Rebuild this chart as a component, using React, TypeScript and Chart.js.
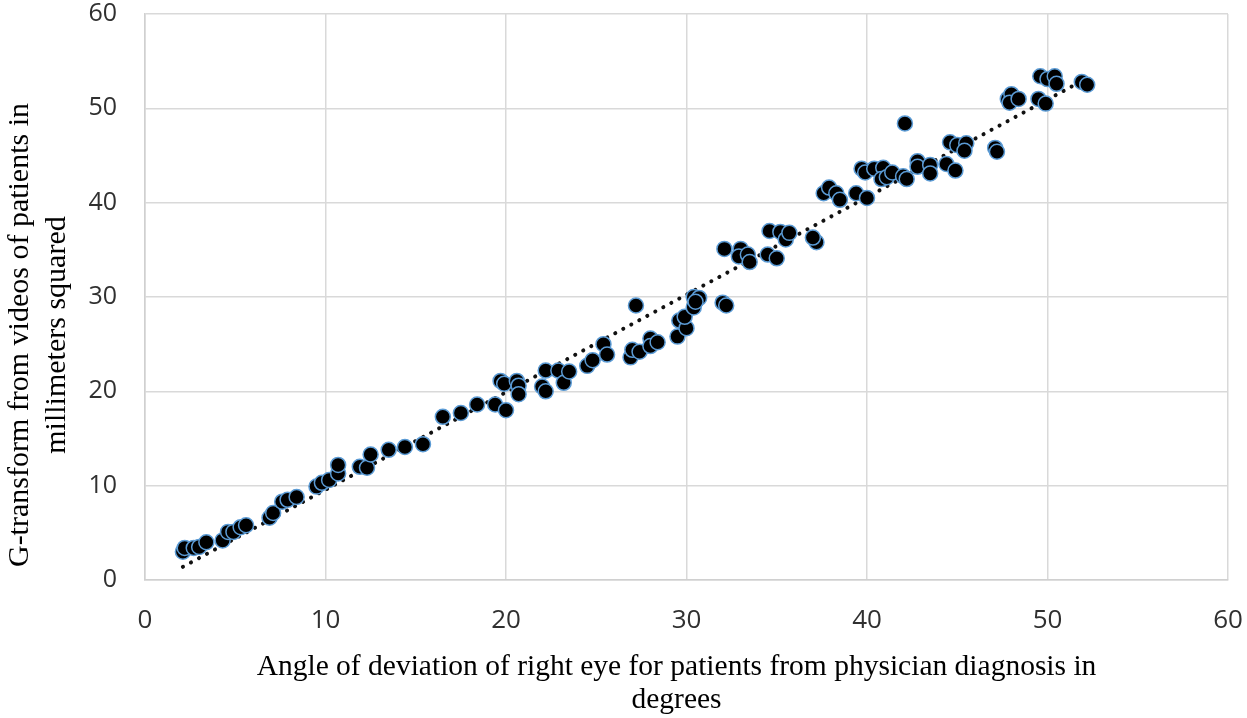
import React, { useEffect, useRef } from "react";
import { Chart, registerables } from "chart.js";

Chart.register(...registerables);

const angleDeg: number[] = [
  2.1, 2.2, 2.7, 3.0, 3.4, 4.3, 4.6, 4.9, 5.3, 5.6, 6.9, 7.1, 7.6, 7.9, 8.4, 9.5, 9.8, 10.2, 10.7, 10.7,
  11.9, 12.3, 12.5, 13.5, 14.4, 15.4, 16.5, 17.5, 18.4, 19.4, 20.0, 19.7, 19.9, 20.6, 20.7, 20.7, 22.2, 22.0,
  22.2, 22.9, 23.2, 23.5, 24.5, 24.8, 25.4, 25.6, 27.2, 26.9, 27.0, 27.4, 28.0, 28.0, 28.4, 29.5, 29.6, 30.0,
  29.9, 30.4, 30.7, 30.4, 30.5, 32.0, 32.2, 32.1, 33.0, 32.9, 33.4, 33.5, 34.5, 35.0, 34.6, 35.2, 35.5, 35.7,
  37.2, 37.0, 37.6, 37.9, 38.3, 38.5, 39.4, 40.0, 39.7, 39.9, 40.4, 40.9, 40.8, 41.1, 41.4, 42.0, 42.2, 42.8,
  42.8, 43.5, 43.5, 44.4, 44.9, 44.6, 45.0, 45.5, 45.4, 47.1, 47.2, 42.1, 47.8, 48.0, 47.9, 48.4, 49.5, 49.9,
  49.6, 50.0, 50.4, 50.5, 51.9, 52.2,
];

const gTransform: number[] = [
  3.0, 3.4, 3.4, 3.5, 4.0, 4.2, 5.1, 5.1, 5.6, 5.8, 6.6, 7.1, 8.3, 8.5, 8.8, 9.9, 10.3, 10.6, 11.3, 12.2,
  12.0, 11.9, 13.3, 13.8, 14.1, 14.4, 17.3, 17.7, 18.6, 18.6, 18.0, 21.1, 20.8, 21.1, 20.6, 19.7, 22.2, 20.5,
  20.0, 22.2, 20.9, 22.1, 22.7, 23.3, 25.0, 23.9, 29.1, 23.6, 24.4, 24.2, 25.6, 24.8, 25.2, 25.8, 27.5, 26.7,
  27.9, 30.0, 29.9, 28.9, 29.5, 29.4, 29.1, 35.1, 35.1, 34.3, 34.5, 33.7, 34.5, 34.1, 37.0, 36.9, 36.1, 36.8,
  35.8, 36.3, 41.0, 41.6, 41.0, 40.3, 41.0, 40.5, 43.6, 43.2, 43.6, 43.7, 42.5, 42.7, 43.2, 42.8, 42.5, 44.4,
  43.8, 44.0, 43.1, 44.1, 43.4, 46.4, 46.1, 46.3, 45.5, 45.8, 45.4, 48.4, 51.0, 51.5, 50.6, 51.0, 51.0, 50.5,
  53.4, 53.1, 53.4, 52.6, 52.8, 52.5,
];

const trendX: number[] = [2.1, 52.2];
const trendY: number[] = [1.4, 53.2];

const axisTicks: number[] = [0, 10, 20, 30, 40, 50, 60];

const xTitle = [
  "Angle of deviation of right eye for patients from physician diagnosis in",
  "degrees",
];
const yTitle = ["G-transform from videos of patients in", "millimeters squared"];

const axisTitlesPlugin = {
  id: "axisTitles",
  afterDraw(chart: any) {
    const ctx = chart.ctx as CanvasRenderingContext2D;
    const area = chart.chartArea;
    ctx.save();
    ctx.fillStyle = "#000";
    ctx.textAlign = "center";
    ctx.textBaseline = "middle";
    // x-axis title
    ctx.font = "29.5px 'Liberation Serif'";
    const xc = (area.left + area.right) / 2 - 10;
    xTitle.forEach((line, i) => ctx.fillText(line, xc, 667 + i * 33));
    // y-axis title (rotated)
    ctx.font = "30px 'Liberation Serif'";
    const yc = (area.top + area.bottom) / 2 + 38;
    ctx.translate(0, yc);
    ctx.rotate(-Math.PI / 2);
    yTitle.forEach((line, i) => ctx.fillText(line, 0, 20 + i * 37.5));
    ctx.restore();
  },
};

export default function App() {
  const ref = useRef<HTMLCanvasElement | null>(null);

  useEffect(() => {
    if (!ref.current) return;
    const points = angleDeg.map((x, i) => ({ x, y: gTransform[i] }));
    const trend = trendX.map((x, i) => ({ x, y: trendY[i] }));
    const chart = new Chart(ref.current, {
      type: "scatter",
      data: {
        datasets: [
          {
            type: "line",
            data: trend,
            borderColor: "#111",
            borderWidth: 4,
            borderDash: [0.1, 9],
            borderCapStyle: "round",
            pointRadius: 0,
            fill: false,
            order: 2,
          } as any,
          {
            data: points,
            backgroundColor: "#000",
            borderColor: "#5b9bd5",
            borderWidth: 1.5,
            pointRadius: 7.5,
            order: 1,
          },
        ],
      },
      options: {
        animation: false,
        responsive: false,
        devicePixelRatio: 1,
        layout: { padding: { top: 14, right: 19, left: 0, bottom: 0 } },
        plugins: { legend: { display: false }, tooltip: { enabled: false } },
        scales: {
          x: {
            type: "linear",
            min: 0,
            max: 60,
            afterBuildTicks: (s: any) => {
              s.ticks = axisTicks.map((v) => ({ value: v }));
            },
            afterFit: (s: any) => {
              s.height = 138;
              s.paddingLeft = 0;
              s.paddingRight = 0;
            },
            grid: { color: "#d9d9d9", lineWidth: 1.5, drawTicks: false },
            border: { color: "#d0d0d0", width: 1.5 },
            ticks: {
              padding: 25,
              color: "#303030",
              font: { family: "Open Sans", size: 26 },
            },
            title: { display: false },
          },
          y: {
            type: "linear",
            min: 0,
            max: 60,
            afterBuildTicks: (s: any) => {
              s.ticks = axisTicks.map((v) => ({ value: v }));
            },
            afterFit: (s: any) => {
              s.width = 145;
              s.paddingTop = 0;
              s.paddingBottom = 0;
            },
            grid: { color: "#d9d9d9", lineWidth: 1.5, drawTicks: false },
            border: { color: "#d0d0d0", width: 1.5 },
            ticks: {
              padding: 28,
              color: "#303030",
              font: { family: "Open Sans", size: 25 },
            },
            title: { display: false },
          },
        },
      },
      plugins: [axisTitlesPlugin],
    });
    return () => chart.destroy();
  }, []);

  return (
    <div style={{ position: "absolute", left: 0, top: 0, width: 1247, height: 718, background: "#fff" }}>
      <canvas ref={ref} width={1247} height={718} style={{ width: 1247, height: 718 }} />
    </div>
  );
}
